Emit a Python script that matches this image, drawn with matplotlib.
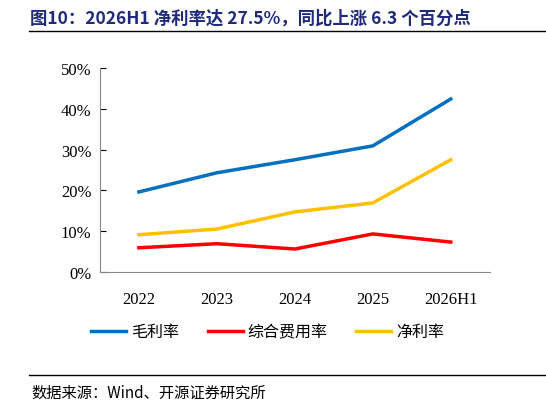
import matplotlib.pyplot as plt
from matplotlib.lines import Line2D
from matplotlib.ticker import PercentFormatter

years = ['2022', '2023', '2024', '2025', '2026H1']
gross_margin = [19.6, 24.3, 27.5, 30.9, 42.4]
expense_ratio = [5.9, 6.9, 5.6, 9.3, 7.3]
net_margin = [9.1, 10.5, 14.7, 16.9, 27.5]

cjk = ['Noto Sans CJK SC', 'DejaVu Sans']
serif = ['Liberation Serif', 'Noto Sans CJK SC']

fig = plt.figure(figsize=(5.46, 4.06), dpi=100)
ax = fig.add_axes([0.183, 0.328, 0.714, 0.502])

x = range(len(years))
ax.plot(x, gross_margin, color='#0070C0', lw=2.5, label='毛利率')
ax.plot(x, expense_ratio, color='#FF0000', lw=2.5, label='综合费用率')
ax.plot(x, net_margin, color='#FFC000', lw=2.5, label='净利率')

ax.set_xlim(-0.5, 4.5)
ax.set_ylim(0, 50)
ax.set_yticks(range(0, 51, 10))
ax.yaxis.set_major_formatter(PercentFormatter(decimals=0))
ax.set_xticks(list(x))
ax.set_xticklabels(years)
for lab in ax.get_xticklabels() + ax.get_yticklabels():
    lab.set_family(serif)
    lab.set_fontsize(12)
ax.tick_params(axis='x', length=0, pad=14)
ax.tick_params(axis='y', direction='in', length=4, pad=6)
ax.spines['top'].set_visible(False)
ax.spines['right'].set_visible(False)
ax.spines['left'].set_color('#888888')
ax.spines['bottom'].set_color('#888888')

leg = fig.legend(loc='center', bbox_to_anchor=(0.49, 0.18), ncol=3, frameon=False,
                 prop={'family': cjk, 'size': 11.5}, handlelength=2.2, columnspacing=1.8,
                 handletextpad=0.3)

fig.text(0.055, 0.955, '图10：2026H1 净利率达 27.5%，同比上涨 6.3 个百分点', family=cjk,
         fontsize=12.5, fontweight='bold', color='#1F2A7A', va='center', ha='left')
fig.add_artist(Line2D([0.053, 1.0], [0.921, 0.921], color='black', lw=1))
fig.add_artist(Line2D([0.053, 1.0], [0.074, 0.074], color='black', lw=1))
fig.text(0.057, 0.032, '数据来源：Wind、开源证券研究所', family=cjk, fontsize=11,
         va='center', ha='left')

fig.savefig('out.png', dpi=100)
